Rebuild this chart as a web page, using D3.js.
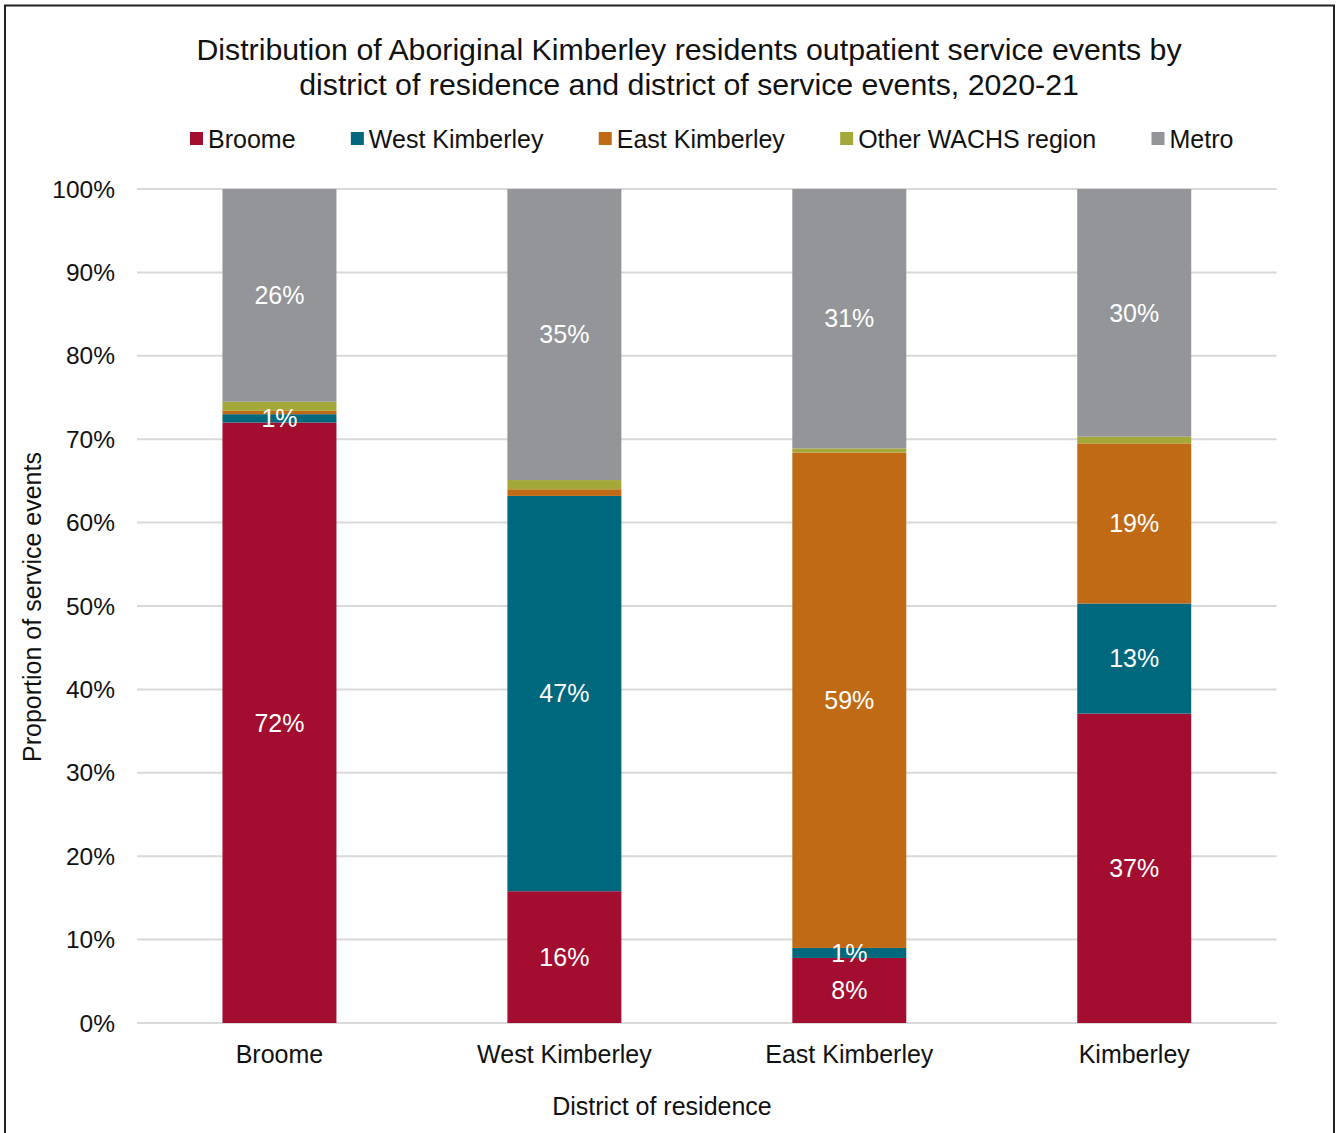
<!DOCTYPE html>
<html><head><meta charset="utf-8">
<script src="https://cdn.jsdelivr.net/npm/d3@7"></script>
<style>body{margin:0;background:#fff;font-family:"Liberation Sans",Arial,sans-serif;}</style>
</head><body><svg id="c" width="1340" height="1133"></svg>
<script>
const categories = ["Broome","West Kimberley","East Kimberley","Kimberley"];
const seriesNames = ["Broome","West Kimberley","East Kimberley","Other WACHS region","Metro"];
const seriesColors = ["#A30E30","#00687D","#C16A15","#A3A838","#939598"];
const valBroome = [72.0, 15.8, 7.8, 37.1];
const valWestKimberley = [1.0, 47.4, 1.2, 13.2];
const valEastKimberley = [0.4, 0.8, 59.4, 19.2];
const valOtherWACHS = [1.1, 1.1, 0.5, 0.8];
const valMetro = [25.5, 34.9, 31.1, 29.7];
const yTicks = [0,10,20,30,40,50,60,70,80,90,100];
const titleLines = ["Distribution of Aboriginal Kimberley residents outpatient service events by","district of residence and district of service events, 2020-21"];
const xTitle = "District of residence";
const yTitle = "Proportion of service events";

const seriesVals = [valBroome, valWestKimberley, valEastKimberley, valOtherWACHS, valMetro];
const svg = d3.select("#c");
const font = '"Liberation Sans", Arial, sans-serif';
const fs = 25;

// frame
svg.append("rect").attr("x",5).attr("y",5.5).attr("width",1329).attr("height",1140)
  .attr("fill","none").attr("stroke","#222").attr("stroke-width",2);

const L=137, R=1276.7, T=189, B=1023;
const x = d3.scaleBand().domain(categories).range([L,R]).paddingInner(0.6).paddingOuter(0.3);
const y = d3.scaleLinear().domain([0,100]).range([B,T]);

// gridlines
svg.append("g").selectAll("line").data(yTicks).join("line")
  .attr("x1",L).attr("x2",R).attr("y1",d=>y(d)).attr("y2",d=>y(d))
  .attr("stroke","#D9D9D9").attr("stroke-width",2);

// y tick labels
svg.append("g").selectAll("text").data(yTicks).join("text")
  .attr("x",115).attr("y",d=>y(d)).attr("dy","0.35em").attr("text-anchor","end")
  .attr("font-family",font).attr("font-size",24.5).attr("fill","#111").text(d=>d+"%");

// stacked data
const rows = categories.map((c,i)=>{const o={cat:c}; seriesNames.forEach((s,j)=>o[s]=seriesVals[j][i]); return o;});
const stack = d3.stack().keys(seriesNames)(rows);

const g = svg.append("g");
stack.forEach((layer,j)=>{
  g.selectAll(null).data(layer).join("rect")
    .attr("x",d=>x(d.data.cat)).attr("width",x.bandwidth())
    .attr("y",d=>y(d[1])).attr("height",d=>y(d[0])-y(d[1]))
    .attr("fill",seriesColors[j]);
});
// labels
stack.forEach((layer,j)=>{
  if (seriesNames[j]==="Other WACHS region") return;
  g.selectAll(null).data(layer.filter(d=>(d[1]-d[0])>=0.95)).join("text")
    .attr("x",d=>x(d.data.cat)+x.bandwidth()/2).attr("y",d=>y((d[0]+d[1])/2))
    .attr("dy","0.35em").attr("text-anchor","middle")
    .attr("font-family",font).attr("font-size",fs).attr("fill","#fff")
    .text(d=>Math.round(d[1]-d[0])+"%");
});

// x labels
svg.append("g").selectAll("text").data(categories).join("text")
  .attr("x",d=>x(d)+x.bandwidth()/2).attr("y",1054).attr("dy","0.35em").attr("text-anchor","middle")
  .attr("font-family",font).attr("font-size",fs).attr("fill","#111").text(d=>d);

// title
svg.append("g").selectAll("text").data(titleLines).join("text")
  .attr("x",689).attr("y",(d,i)=>49+i*35).attr("dy","0.35em").attr("text-anchor","middle")
  .attr("font-family",font).attr("font-size",30.3).attr("fill","#111").text(d=>d);

// axis titles
svg.append("text").attr("x",662).attr("y",1106).attr("dy","0.35em").attr("text-anchor","middle")
  .attr("font-family",font).attr("font-size",fs).attr("fill","#111").text(xTitle);
svg.append("text").attr("transform","translate(32,607) rotate(-90)").attr("dy","0.35em").attr("text-anchor","middle")
  .attr("font-family",font).attr("font-size",fs).attr("fill","#111").text(yTitle);

// legend
const lg = svg.append("g");
let lx = 190;
seriesNames.forEach((s,j)=>{
  lg.append("rect").attr("x",lx).attr("y",132).attr("width",13).attr("height",13).attr("fill",seriesColors[j]);
  const t = lg.append("text").attr("x",lx+18).attr("y",139).attr("dy","0.35em")
    .attr("font-family",font).attr("font-size",fs).attr("fill","#111").text(s);
  lx += 18 + t.node().getComputedTextLength() + 55.3;
});
</script></body></html>
